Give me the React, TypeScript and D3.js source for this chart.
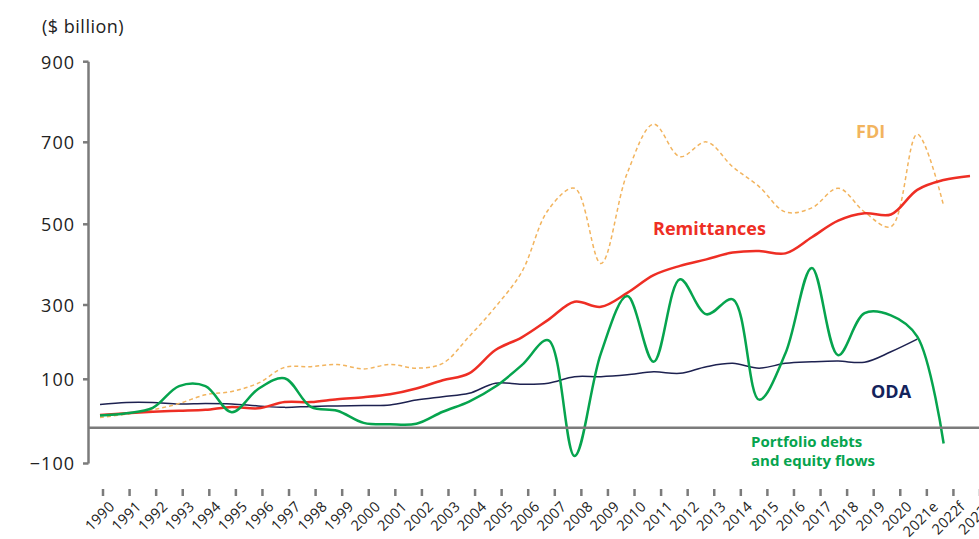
import React from 'react';
import * as d3 from 'd3';

const years = [
  '1990', '1991', '1992', '1993', '1994', '1995', '1996', '1997', '1998', '1999',
  '2000', '2001', '2002', '2003', '2004', '2005', '2006', '2007', '2008', '2009',
  '2010', '2011', '2012', '2013', '2014', '2015', '2016', '2017', '2018', '2019',
  '2020', '2021e', '2022f', '2023f',
];

const remittances = [
  26, 30, 33, 35, 37, 43, 40, 53, 53, 59, 63, 69, 81, 98, 116, 179, 213, 260, 308, 295,
  330, 374, 397, 413, 430, 434, 428, 468, 509, 527, 524, 584, 608, 618,
];

const fdi = [
  21, 28, 37, 50, 68, 75, 92, 132, 134, 140, 128, 140, 130, 143, 215, 295, 382, 535, 588, 403,
  625, 745, 665, 701, 640, 592, 530, 540, 588, 530, 494, 720, 545, null,
];

const portfolio = [
  25, 30, 41, 86, 86, 32, 80, 103, 43, 35, 10, 7, 8, 33, 54, 85, 138, 205, -79, 170,
  322, 147, 364, 275, 314, 58, 170, 392, 165, 278, 272, 215, -44, null,
];

const oda = [
  48, 52, 52, 49, 50, 49, 45, 42, 44, 45, 46, 47, 57, 64, 71, 92, 90, 92, 107, 107,
  112, 120, 116, 134, 143, 130, 143, 147, 149, 146, 174, 208, null, null,
];

const yTicks = [-100, 0, 100, 300, 500, 700, 900];
const yLabels = [900, 700, 500, 300, 100, -100];

const FONT = '"Open Sans", sans-serif';
const AXIS = '#7b7b7b';

export default function App() {
  const width = 979;
  const height = 539;

  const xAxis = d3.scalePoint<string>().domain(years).range([103, 980]);
  const xLine = d3.scalePoint<string>().domain(years).range([100, 970]);
  // the y axis of the original is not evenly spaced, so map every tick
  const y = d3.scaleLinear().domain(yTicks).range([463.5, 427.7, 379.3, 305, 224.3, 142.3, 61.7]);
  const fmt = d3.format('d');

  const makeLine = (vals: (number | null)[]) =>
    d3.line<number | null>()
      .defined(d => d !== null)
      .x((_, i) => xLine(years[i]) as number)
      .y(d => y(d as number))
      .curve(d3.curveCatmullRom.alpha(0.5))(vals) || '';

  const series = [
    { name: 'ODA', values: oda, color: '#1d2150', width: 1.5, dash: undefined },
    { name: 'FDI', values: fdi, color: '#f2b45e', width: 1.5, dash: '4 3' },
    { name: 'Remittances', values: remittances, color: '#ee2e24', width: 2.5, dash: undefined },
    { name: 'Portfolio', values: portfolio, color: '#06a44e', width: 2.5, dash: undefined },
  ];

  return (
    <svg width={width} height={height} style={{ position: 'absolute', left: 0, top: 0, background: '#fff' }}>
      <text x={42} y={33} fontFamily={FONT} fontSize={18} letterSpacing={0.5} fill="#222">($ billion)</text>

      {/* y axis */}
      <line x1={88.5} x2={88.5} y1={y(900)} y2={y(-100)} stroke={AXIS} strokeWidth={2.5} />
      {yLabels.map(t => (
        <g key={t}>
          <line x1={83} x2={88.5} y1={y(t)} y2={y(t)} stroke={AXIS} strokeWidth={2.5} />
          <text x={75} y={y(t)} dy="0.38em" textAnchor="end" fontFamily={FONT} fontSize={18}
            letterSpacing={1} fill="#222">{fmt(t)}</text>
        </g>
      ))}

      {/* x axis ticks */}
      {years.map(yr => {
        const x = xAxis(yr) as number;
        return (
          <g key={yr}>
            <line x1={x} x2={x} y1={489} y2={496} stroke={AXIS} strokeWidth={2.5} />
            <text transform={`translate(${x + 4},${499}) rotate(-45)`} textAnchor="end"
              dominantBaseline="hanging" fontFamily={FONT} fontSize={14.5} letterSpacing={0.3}
              fill="#222">{yr}</text>
          </g>
        );
      })}

      {series.map(s => (
        <path key={s.name} d={makeLine(s.values)} fill="none" stroke={s.color}
          strokeWidth={s.width} strokeDasharray={s.dash} strokeLinejoin="round" />
      ))}

      {/* zero line */}
      <line x1={88.5} x2={width} y1={y(0)} y2={y(0)} stroke={AXIS} strokeWidth={2.5} />

      <text x={856} y={138} fontFamily={FONT} fontWeight={700} fontSize={18} fill="#f2b45e">FDI</text>
      <text x={653} y={235} fontFamily={FONT} fontWeight={700} fontSize={18} fill="#ee2e24">Remittances</text>
      <text x={871} y={398} fontFamily={FONT} fontWeight={700} fontSize={18} fill="#13235b">ODA</text>
      <text x={751} y={447} fontFamily={FONT} fontWeight={700} fontSize={15} fill="#06a44e">Portfolio debts</text>
      <text x={751} y={466} fontFamily={FONT} fontWeight={700} fontSize={15} fill="#06a44e">and equity flows</text>
    </svg>
  );
}
